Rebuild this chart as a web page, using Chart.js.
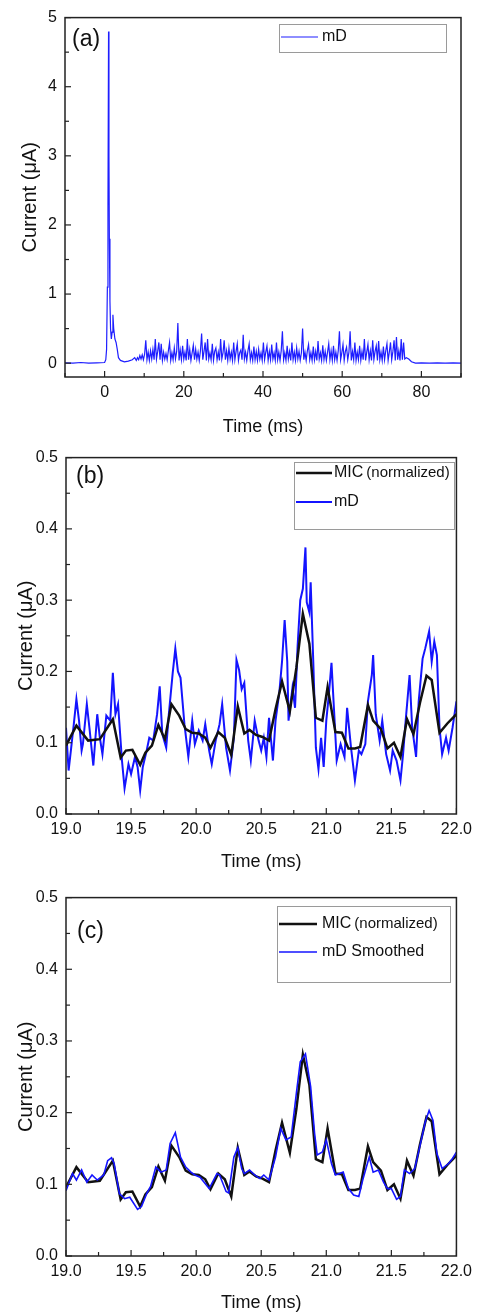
<!DOCTYPE html>
<html>
<head>
<meta charset="utf-8">
<script src="https://cdn.jsdelivr.net/npm/chart.js@4.4.0/dist/chart.umd.min.js"></script>
<style>
  html, body { margin: 0; padding: 0; background: #fff; }
  .panel { position: absolute; left: 0; width: 478px; }
  canvas { display: block; }
</style>
</head>
<body>
<div class="panel" style="top:0"><canvas id="chartA" width="478" height="440"></canvas></div>
<div class="panel" style="top:440px"><canvas id="chartB" width="478" height="440"></canvas></div>
<div class="panel" style="top:880px"><canvas id="chartC" width="478" height="434"></canvas></div>
<script>
// ---- panel (a): whole mD trace ----
// before the noisy band (spike at ~1 ms)
const aPreTime = [-10, -8, -6, -4, -2, 0, 0.3, 0.5, 0.7, 0.85, 1.0, 1.1, 1.2, 1.35, 1.5, 1.7, 1.9, 2.1, 2.3, 2.6, 2.9, 3.2, 3.5, 4, 5, 6, 7, 7.6];
const aPreCurrent = [0.005, 0, 0.01, 0, 0.005, 0.01, 0.05, 0.2, 1.1, 2.3, 4.8, 3.0, 1.8, 0.9, 0.5, 0.35, 0.45, 0.7, 0.5, 0.35, 0.3, 0.2, 0.08, 0.04, 0.02, 0.03, 0.05, 0.08];
// noisy band, sampled every 0.3 ms from 8 ms
const aBandStart = 8;
const aBandStep = 0.3;
const aBandCurrent = [
  0.04, 0.08, 0.05, 0.11, 0.06, 0.12, 0.05, 0.13, 0.33, 0.05,
  0.16, 0.04, 0.18, 0.06, 0.20, 0.05, 0.35, 0.06, 0.17, 0.30,
  0.05, 0.28, 0.04, 0.16, 0.06, 0.14, 0.05, 0.18, 0.30, 0.04,
  0.15, 0.05, 0.22, 0.06, 0.17, 0.58, 0.04, 0.19, 0.05, 0.25,
  0.06, 0.16, 0.04, 0.35, 0.05, 0.20, 0.04, 0.15, 0.26, 0.05,
  0.20, 0.06, 0.16, 0.04, 0.18, 0.43, 0.05, 0.17, 0.30, 0.04,
  0.35, 0.06, 0.15, 0.05, 0.28, 0.04, 0.17, 0.22, 0.05, 0.16,
  0.04, 0.35, 0.06, 0.15, 0.33, 0.05, 0.18, 0.04, 0.22, 0.06,
  0.16, 0.04, 0.30, 0.05, 0.17, 0.28, 0.04, 0.15, 0.19, 0.05,
  0.41, 0.06, 0.16, 0.04, 0.18, 0.28, 0.05, 0.15, 0.04, 0.24,
  0.05, 0.17, 0.04, 0.20, 0.06, 0.15, 0.04, 0.30, 0.05, 0.16,
  0.25, 0.04, 0.17, 0.05, 0.27, 0.06, 0.15, 0.04, 0.30, 0.05,
  0.16, 0.04, 0.18, 0.46, 0.05, 0.15, 0.04, 0.25, 0.06, 0.17,
  0.04, 0.30, 0.05, 0.16, 0.04, 0.22, 0.06, 0.17, 0.04, 0.15,
  0.50, 0.05, 0.16, 0.04, 0.18, 0.27, 0.05, 0.15, 0.04, 0.24,
  0.05, 0.17, 0.04, 0.32, 0.06, 0.15, 0.04, 0.26, 0.05, 0.17,
  0.04, 0.16, 0.28, 0.05, 0.18, 0.04, 0.25, 0.05, 0.16, 0.04,
  0.18, 0.46, 0.05, 0.15, 0.27, 0.04, 0.17, 0.23, 0.05, 0.16,
  0.46, 0.04, 0.17, 0.05, 0.30, 0.04, 0.16, 0.05, 0.25, 0.04,
  0.17, 0.05, 0.35, 0.04, 0.16, 0.27, 0.05, 0.18, 0.04, 0.33,
  0.05, 0.17, 0.25, 0.04, 0.32, 0.05, 0.16, 0.04, 0.24, 0.05,
  0.18, 0.28, 0.04, 0.16, 0.30, 0.05, 0.17, 0.33, 0.04, 0.38,
  0.05, 0.18, 0.04, 0.35, 0.05, 0.30, 0.06
];
// after the band
const aPostTime = [76.2, 76.8, 77.5, 78.5, 80, 82, 84, 86, 88, 90];
const aPostCurrent = [0.08, 0.06, 0.02, 0, 0.005, 0, 0.005, 0, 0.005, 0];

// ---- MIC (normalized), panels (b) and (c) ----
const micTime = [19.00, 19.08, 19.17, 19.26, 19.36, 19.42, 19.46, 19.51, 19.57, 19.61, 19.66, 19.71, 19.76, 19.81, 19.87, 19.92, 19.97, 20.02, 20.07, 20.11, 20.17, 20.22, 20.27, 20.32, 20.37, 20.41, 20.46, 20.51, 20.56, 20.61, 20.66, 20.72, 20.77, 20.82, 20.87, 20.92, 20.97, 21.01, 21.07, 21.12, 21.17, 21.22, 21.26, 21.32, 21.36, 21.42, 21.47, 21.52, 21.57, 21.62, 21.67, 21.72, 21.77, 21.81, 21.87, 21.93, 22.00];
const micCurrent = [0.096, 0.124, 0.103, 0.105, 0.133, 0.079, 0.089, 0.090, 0.069, 0.086, 0.096, 0.125, 0.105, 0.154, 0.138, 0.119, 0.114, 0.113, 0.107, 0.093, 0.115, 0.107, 0.083, 0.151, 0.113, 0.118, 0.111, 0.108, 0.103, 0.147, 0.186, 0.144, 0.205, 0.281, 0.239, 0.135, 0.131, 0.178, 0.115, 0.114, 0.092, 0.092, 0.094, 0.153, 0.131, 0.119, 0.092, 0.100, 0.080, 0.133, 0.112, 0.156, 0.194, 0.188, 0.114, 0.127, 0.140];

// ---- mD raw, panel (b) ----
const mdTime = [19.00, 19.02, 19.04, 19.06, 19.08, 19.10, 19.12, 19.13, 19.16, 19.18, 19.21, 19.24, 19.26, 19.28, 19.31, 19.34, 19.36, 19.38, 19.40, 19.43, 19.45, 19.48, 19.50, 19.53, 19.55, 19.57, 19.59, 19.62, 19.64, 19.67, 19.70, 19.72, 19.74, 19.77, 19.79, 19.82, 19.84, 19.86, 19.88, 19.91, 19.94, 19.97, 19.99, 20.02, 20.05, 20.07, 20.10, 20.12, 20.15, 20.18, 20.20, 20.23, 20.26, 20.29, 20.31, 20.33, 20.35, 20.37, 20.40, 20.42, 20.45, 20.48, 20.50, 20.52, 20.54, 20.56, 20.59, 20.61, 20.64, 20.66, 20.68, 20.70, 20.71, 20.74, 20.76, 20.78, 20.80, 20.82, 20.84, 20.85, 20.87, 20.88, 20.90, 20.92, 20.94, 20.96, 20.98, 21.00, 21.02, 21.04, 21.06, 21.08, 21.11, 21.14, 21.16, 21.19, 21.22, 21.25, 21.27, 21.30, 21.32, 21.35, 21.36, 21.38, 21.41, 21.43, 21.46, 21.49, 21.51, 21.54, 21.57, 21.59, 21.61, 21.64, 21.66, 21.69, 21.71, 21.74, 21.76, 21.79, 21.81, 21.83, 21.85, 21.87, 21.89, 21.92, 21.94, 21.97, 22.00];
const mdCurrent = [0.121, 0.061, 0.093, 0.126, 0.161, 0.131, 0.089, 0.098, 0.154, 0.121, 0.068, 0.140, 0.107, 0.084, 0.138, 0.131, 0.198, 0.140, 0.154, 0.075, 0.036, 0.070, 0.056, 0.080, 0.066, 0.033, 0.066, 0.089, 0.107, 0.103, 0.140, 0.179, 0.112, 0.093, 0.140, 0.198, 0.232, 0.200, 0.191, 0.126, 0.080, 0.131, 0.098, 0.117, 0.103, 0.126, 0.089, 0.070, 0.103, 0.126, 0.154, 0.093, 0.061, 0.107, 0.216, 0.202, 0.175, 0.184, 0.103, 0.075, 0.131, 0.103, 0.089, 0.107, 0.080, 0.135, 0.075, 0.131, 0.172, 0.214, 0.272, 0.214, 0.131, 0.177, 0.149, 0.237, 0.300, 0.316, 0.374, 0.297, 0.283, 0.325, 0.214, 0.093, 0.063, 0.107, 0.066, 0.131, 0.168, 0.212, 0.144, 0.075, 0.098, 0.080, 0.149, 0.093, 0.047, 0.089, 0.084, 0.098, 0.158, 0.195, 0.223, 0.140, 0.103, 0.131, 0.084, 0.061, 0.089, 0.075, 0.047, 0.084, 0.131, 0.195, 0.121, 0.080, 0.158, 0.218, 0.232, 0.256, 0.214, 0.242, 0.223, 0.121, 0.084, 0.107, 0.089, 0.121, 0.158];

// ---- mD smoothed, panel (c) ----
const smoothTime = [19.00, 19.05, 19.08, 19.12, 19.16, 19.20, 19.24, 19.29, 19.32, 19.35, 19.37, 19.41, 19.45, 19.49, 19.55, 19.58, 19.62, 19.65, 19.69, 19.73, 19.77, 19.80, 19.84, 19.88, 19.92, 19.96, 19.99, 20.03, 20.10, 20.16, 20.18, 20.23, 20.25, 20.29, 20.32, 20.35, 20.37, 20.41, 20.45, 20.49, 20.52, 20.56, 20.61, 20.65, 20.69, 20.73, 20.77, 20.80, 20.84, 20.88, 20.91, 20.93, 20.97, 21.00, 21.04, 21.07, 21.13, 21.17, 21.21, 21.25, 21.28, 21.33, 21.36, 21.40, 21.44, 21.47, 21.50, 21.54, 21.57, 21.60, 21.64, 21.68, 21.73, 21.76, 21.79, 21.82, 21.85, 21.89, 21.94, 21.97, 22.00];
const smoothCurrent = [0.091, 0.115, 0.106, 0.120, 0.103, 0.113, 0.106, 0.113, 0.133, 0.137, 0.129, 0.087, 0.080, 0.082, 0.065, 0.069, 0.087, 0.097, 0.124, 0.117, 0.120, 0.157, 0.172, 0.138, 0.124, 0.117, 0.113, 0.110, 0.094, 0.115, 0.113, 0.090, 0.088, 0.138, 0.151, 0.122, 0.115, 0.120, 0.113, 0.108, 0.113, 0.106, 0.138, 0.178, 0.162, 0.166, 0.227, 0.271, 0.282, 0.236, 0.171, 0.141, 0.145, 0.162, 0.129, 0.113, 0.117, 0.094, 0.085, 0.083, 0.106, 0.138, 0.117, 0.120, 0.103, 0.094, 0.094, 0.079, 0.083, 0.120, 0.115, 0.122, 0.162, 0.187, 0.203, 0.189, 0.143, 0.122, 0.129, 0.136, 0.145];

const FONT = "'Liberation Sans', Arial, Helvetica, sans-serif";
Chart.defaults.font.family = FONT;
Chart.defaults.color = '#111';

function zip(xs, ys) {
    return xs.map((x, i) => ({ x: x, y: ys[i] }));
}

// whole trace for (a)
const aPoints = zip(aPreTime, aPreCurrent)
    .concat(aBandCurrent.map((v, i) => ({ x: aBandStart + i * aBandStep, y: v })))
    .concat(zip(aPostTime, aPostCurrent));

// box, inward ticks, panel letter and legend
const framePlugin = {
    id: 'frame',
    afterDatasetsDraw(chart, args, opts) {
        const ctx = chart.ctx;
        const a = chart.chartArea;
        ctx.save();
        ctx.strokeStyle = '#222';
        ctx.lineWidth = 1.5;
        ctx.strokeRect(a.left, a.top, a.right - a.left, a.bottom - a.top);

        ctx.lineWidth = 1.2;
        const xs = chart.scales.x, ys = chart.scales.y;
        xs.ticks.forEach(t => {
            const px = xs.getPixelForValue(t.value);
            const len = t.label !== '' ? 6 : 4;
            ctx.beginPath();
            ctx.moveTo(px, a.bottom);
            ctx.lineTo(px, a.bottom - len);
            ctx.stroke();
        });
        ys.ticks.forEach(t => {
            const py = ys.getPixelForValue(t.value);
            const len = t.label !== '' ? 6 : 4;
            ctx.beginPath();
            ctx.moveTo(a.left, py);
            ctx.lineTo(a.left + len, py);
            ctx.stroke();
        });

        ctx.fillStyle = '#111';
        ctx.textBaseline = 'middle';
        ctx.font = '23px ' + FONT;
        ctx.fillText(opts.label, opts.labelX, opts.labelY);

        const lg = opts.legend;
        ctx.strokeStyle = '#9a9a9a';
        ctx.lineWidth = 1;
        ctx.strokeRect(lg.x + 0.5, lg.y + 0.5, lg.w, lg.h);
        lg.rows.forEach(r => {
            const ds = chart.data.datasets[r.ds];
            ctx.strokeStyle = ds.borderColor;
            ctx.lineWidth = ds.borderWidth;
            ctx.beginPath();
            ctx.moveTo(lg.x + 2, r.y);
            ctx.lineTo(lg.lineEnd, r.y);
            ctx.stroke();
            ctx.font = '16px ' + FONT;
            ctx.fillText(ds.label, lg.textX, r.y);
            if (r.suffix) {
                const w = ctx.measureText(ds.label).width;
                ctx.font = '15px ' + FONT;
                ctx.fillText(r.suffix, lg.textX + w + 3, r.y);
            }
        });
        ctx.restore();
    }
};

function makeChart(id, datasets, cfg) {
    return new Chart(document.getElementById(id), {
        type: 'scatter',
        data: { datasets: datasets },
        options: {
            responsive: false,
            animation: false,
            devicePixelRatio: 1,
            layout: { padding: { top: cfg.padTop, right: 17, left: 0, bottom: 0 } },
            elements: { point: { radius: 0 }, line: { tension: 0 } },
            plugins: {
                legend: { display: false },
                tooltip: { enabled: false },
                frame: cfg.frame
            },
            scales: {
                x: {
                    type: 'linear',
                    min: cfg.xMin, max: cfg.xMax,
                    afterFit: s => { s.height = cfg.xHeight; },
                    grid: { display: false, drawTicks: false },
                    border: { display: false },
                    ticks: {
                        stepSize: cfg.xStep, autoSkip: false, maxRotation: 0, padding: 6,
                        font: { size: 16 }, color: '#111',
                        callback: cfg.xLabel
                    },
                    title: {
                        display: true, text: 'Time (ms)', color: '#111',
                        font: { size: 18, lineHeight: 1 },
                        padding: { top: 0, bottom: cfg.xTitlePad }
                    }
                },
                y: {
                    type: 'linear',
                    min: cfg.yMin, max: cfg.yMax,
                    afterFit: s => { s.width = cfg.yWidth; },
                    grid: { display: false, drawTicks: false },
                    border: { display: false },
                    ticks: {
                        stepSize: cfg.yStep, autoSkip: false, includeBounds: false, padding: 8,
                        font: { size: 16 }, color: '#111',
                        callback: cfg.yLabel
                    },
                    title: {
                        display: true, text: 'Current (\u03bcA)', color: '#111',
                        font: { size: 20, lineHeight: 1 },
                        padding: { top: cfg.yTitlePad, bottom: 0 }
                    }
                }
            }
        },
        plugins: [framePlugin]
    });
}

const isMult = (v, m) => Math.abs(v / m - Math.round(v / m)) < 1e-6;
const msLabel = v => isMult(v, 0.5) ? v.toFixed(1) : '';
const uaLabel = v => isMult(v, 0.1) ? v.toFixed(1) : '';

makeChart('chartA', [
    { label: 'mD', data: aPoints, showLine: true, borderColor: 'rgb(30,30,255)', borderWidth: 1.2 }
], {
    padTop: 16, xHeight: 63, yWidth: 65, xTitlePad: 4, yTitlePad: 20,
    xMin: -10, xMax: 90, xStep: 10, xLabel: v => isMult(v, 20) ? String(v) : '',
    yMin: -0.2, yMax: 5, yStep: 0.5, yLabel: v => isMult(v, 1) ? String(Math.round(v)) : '',
    frame: {
        label: '(a)', labelX: 72, labelY: 40,
        legend: { x: 279, y: 24, w: 167, h: 28, lineEnd: 318, textX: 322, rows: [{ ds: 0, y: 37 }] }
    }
});

makeChart('chartB', [
    { label: 'MIC', data: zip(micTime, micCurrent), showLine: true, borderColor: '#111', borderWidth: 2.5, order: 0 },
    { label: 'mD', data: zip(mdTime, mdCurrent), showLine: true, borderColor: 'rgb(20,20,255)', borderWidth: 2, order: 1 }
], {
    padTop: 15, xHeight: 66, yWidth: 66, xTitlePad: 9, yTitlePad: 16,
    xMin: 19, xMax: 22, xStep: 0.25, xLabel: msLabel,
    yMin: 0, yMax: 0.5, yStep: 0.05, yLabel: uaLabel,
    frame: {
        label: '(b)', labelX: 76, labelY: 37,
        legend: { x: 294, y: 22, w: 160, h: 67, lineEnd: 332, textX: 334,
            rows: [{ ds: 0, y: 33, suffix: '(normalized)' }, { ds: 1, y: 62 }] }
    }
});

makeChart('chartC', [
    { label: 'MIC', data: zip(micTime, micCurrent), showLine: true, borderColor: '#111', borderWidth: 2.5, order: 1 },
    { label: 'mD Smoothed', data: zip(smoothTime, smoothCurrent), showLine: true, borderColor: 'rgb(20,20,255)', borderWidth: 1.6, order: 0 }
], {
    padTop: 17, xHeight: 58, yWidth: 66, xTitlePad: 2, yTitlePad: 16,
    xMin: 19, xMax: 22, xStep: 0.25, xLabel: msLabel,
    yMin: 0, yMax: 0.5, yStep: 0.05, yLabel: uaLabel,
    frame: {
        label: '(c)', labelX: 77, labelY: 52,
        legend: { x: 277, y: 26, w: 173, h: 76, lineEnd: 317, textX: 322,
            rows: [{ ds: 0, y: 44, suffix: '(normalized)' }, { ds: 1, y: 72 }] }
    }
});
</script>
</body>
</html>
